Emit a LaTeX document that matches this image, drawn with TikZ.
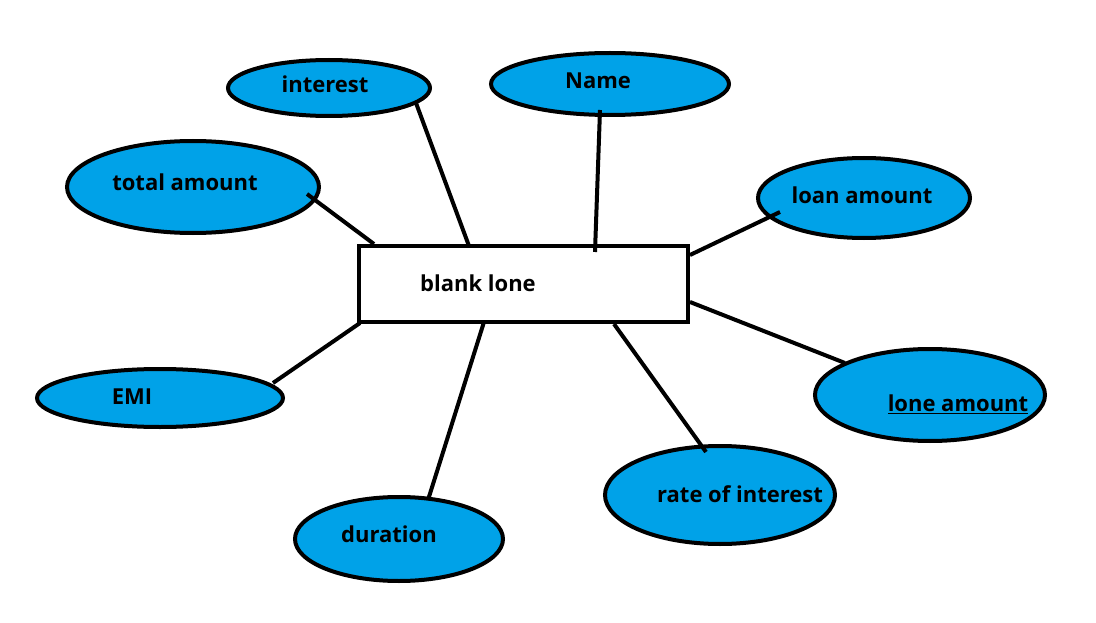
\documentclass[tikz,border=0pt]{standalone}
\usepackage{fontspec}
\setmainfont{Open Sans}
\usetikzlibrary{shapes.geometric}
\definecolor{paintblue}{RGB}{0,162,232}
\tikzset{
  attr/.style={ellipse, draw=black, line width=4pt, fill=paintblue, inner sep=0pt},
  lbl/.style={font=\bfseries\fontsize{22}{26}\selectfont, inner sep=0pt},
  conn/.style={line width=4pt, black}
}
\begin{document}
\begin{tikzpicture}[x=1pt,y=-1pt]
\fill[white] (0,0) rectangle (1096,623);
\useasboundingbox (0,0) rectangle (1096,623);
% ellipses
\node[attr, minimum width=202pt, minimum height=56pt] (interest) at (329,88) {};
\node[attr, minimum width=238pt, minimum height=62pt] (name) at (610,84) {};
\node[attr, minimum width=252pt, minimum height=92pt] (total) at (193,187) {};
\node[attr, minimum width=212pt, minimum height=80pt] (loan) at (864,198) {};
\node[attr, minimum width=246pt, minimum height=58pt] (emi) at (160,398) {};
\node[attr, minimum width=230pt, minimum height=92pt] (lone) at (930,395) {};
\node[attr, minimum width=230pt, minimum height=98pt] (rate) at (720,495) {};
\node[attr, minimum width=208pt, minimum height=84pt] (dur) at (399,539) {};
% box
\node[draw=black, line width=4pt, fill=white, minimum width=329pt, minimum height=76pt, inner sep=0pt] (box) at (523.5,284) {};
% labels
\node[lbl] (tinterest) at (325,84) {interest};
\node[lbl] (tname) at (598,81) {Name};
\node[lbl] (ttotal) at (185,182) {total amount};
\node[lbl] (tloan) at (862,195) {loan amount};
\node[lbl] (temi) at (132,397) {EMI};
\node[lbl] (tlone) at (958,404) {\underline{lone amount}};
\node[lbl] (trate) at (740,494) {rate of interest};
\node[lbl] (tdur) at (389,534) {duration};
\node[lbl] (tbox) at (478,283) {blank lone};
% connector ends
\coordinate (c1a) at (307,194); \coordinate (c1b) at (374,244);
\coordinate (c2a) at (416,103); \coordinate (c2b) at (469,246);
\coordinate (c3a) at (600,110); \coordinate (c3b) at (595,252);
\coordinate (c4a) at (780,212); \coordinate (c4b) at (690,255);
\coordinate (c5a) at (845,363); \coordinate (c5b) at (690,302);
\coordinate (c6a) at (706,452); \coordinate (c6b) at (614,324);
\coordinate (c7a) at (428,500); \coordinate (c7b) at (484,322);
\coordinate (c8a) at (273,383); \coordinate (c8b) at (360,323);
\draw[conn] (c1a) -- (c1b);
\draw[conn] (c2a) -- (c2b);
\draw[conn] (c3a) -- (c3b);
\draw[conn] (c4a) -- (c4b);
\draw[conn] (c5a) -- (c5b);
\draw[conn] (c6a) -- (c6b);
\draw[conn] (c7a) -- (c7b);
\draw[conn] (c8a) -- (c8b);
\end{tikzpicture}
\end{document}
